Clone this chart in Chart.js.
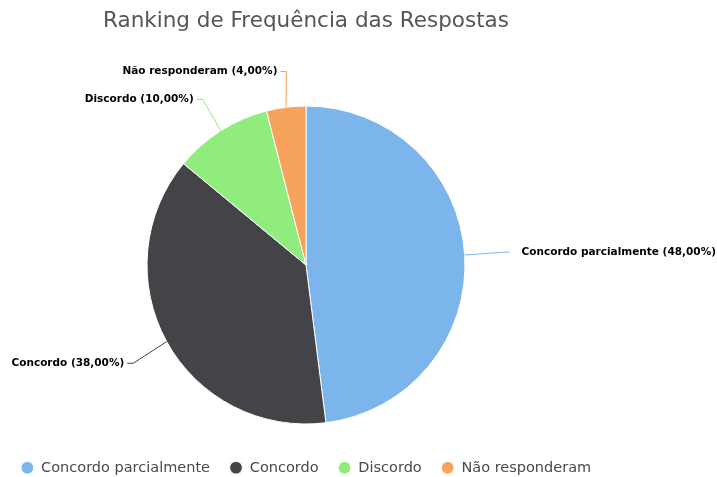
<!DOCTYPE html>
<html lang="pt">
<head>
<meta charset="utf-8">
<title>Ranking de Frequência das Respostas</title>
<script src="https://cdn.jsdelivr.net/npm/chart.js@4.4.1/dist/chart.umd.min.js"></script>
<style>
    html, body { margin: 0; padding: 0; background: #fff; overflow: hidden; }
    #wrap { position: relative; width: 717px; height: 477px; }
</style>
</head>
<body>
<div id="wrap"><canvas id="chartRanking"></canvas></div>
<script>
// Respostas e percentuais
const categorias = ['Concordo parcialmente', 'Concordo', 'Discordo', 'Não responderam'];
const percentuais = [48, 38, 10, 4];
const cores = ['#7cb5ec', '#434348', '#90ed7d', '#f7a35c'];

const fonte = 'DejaVu Sans, Verdana, sans-serif';

function formatarPct(v, total) {
    return (v / total * 100).toFixed(2).replace('.', ',') + '%';
}

// Rótulos externos com linha de ligação (estilo highcharts)
const rotulosPie = {
    id: 'rotulosPie',
    afterDatasetsDraw(chart) {
        const ctx = chart.ctx;
        const meta = chart.getDatasetMeta(0);
        const dados = chart.data.datasets[0].data;
        const total = dados.reduce((a, b) => a + b, 0);
        const distancia = 45;
        const espacoLinha = 28;
        const yMin = chart.chartArea.top - 17.5;

        const itens = meta.data.map((arc, i) => {
            const p = arc.getProps(['x', 'y', 'startAngle', 'endAngle', 'outerRadius'], true);
            const meio = (p.startAngle + p.endAngle) / 2;
            const cos = Math.cos(meio), sin = Math.sin(meio);
            const R = p.outerRadius + distancia;
            return {
                i,
                direita: cos >= 0,
                bx: p.x + p.outerRadius * cos,
                by: p.y + p.outerRadius * sin,
                ax: p.x + R * cos,
                ay: p.y + R * sin
            };
        });

        // evita sobreposição em cada lado
        [true, false].forEach(lado => {
            const grupo = itens.filter(it => it.direita === lado).sort((a, b) => a.ay - b.ay);
            let ultimo = -Infinity;
            grupo.forEach(it => {
                let y = Math.max(it.ay, yMin);
                if (y - ultimo < espacoLinha) y = ultimo + espacoLinha;
                it.ay = y;
                ultimo = y;
            });
        });

        ctx.save();
        itens.forEach(it => {
            const sinal = it.direita ? 1 : -1;
            ctx.strokeStyle = cores[it.i];
            ctx.lineWidth = 1;
            ctx.beginPath();
            ctx.moveTo(it.bx, it.by);
            ctx.lineTo(it.ax - sinal * 6, it.ay);
            ctx.lineTo(it.ax, it.ay);
            ctx.stroke();

            const texto = `${chart.data.labels[it.i]} (${formatarPct(dados[it.i], total)})`;
            ctx.font = `bold 10.5px ${fonte}`;
            ctx.fillStyle = '#000';
            ctx.textBaseline = 'middle';
            ctx.textAlign = it.direita ? 'left' : 'right';
            ctx.fillText(texto, it.ax + sinal * (it.direita ? 12 : 3), it.ay);
        });
        ctx.restore();
    }
};

const ctx = document.getElementById('chartRanking').getContext('2d');

new Chart(ctx, {
    type: 'pie',
    data: {
        labels: categorias,
        datasets: [{
            data: percentuais,
            backgroundColor: cores,
            borderColor: '#ffffff',
            borderWidth: 1,
            radius: 159
        }]
    },
    options: {
        responsive: true,
        maintainAspectRatio: false,
        animation: false,
        layout: {
            padding: { left: 0, right: 105, top: 0, bottom: -8 }
        },
        plugins: {
            title: {
                display: true,
                text: 'Ranking de Frequência das Respostas',
                color: '#555',
                font: { family: fonte, size: 21.5, weight: 'normal' },
                padding: { top: 9, bottom: 54.2 }
            },
            legend: {
                position: 'bottom',
                labels: {
                    usePointStyle: true,
                    pointStyle: 'circle',
                    boxWidth: 13,
                    boxHeight: 9,
                    padding: 19.5,
                    color: '#4a4a4a',
                    font: { family: fonte, size: 14.5 }
                }
            },
            tooltip: { enabled: false }
        }
    },
    plugins: [rotulosPie]
});
</script>
</body>
</html>
